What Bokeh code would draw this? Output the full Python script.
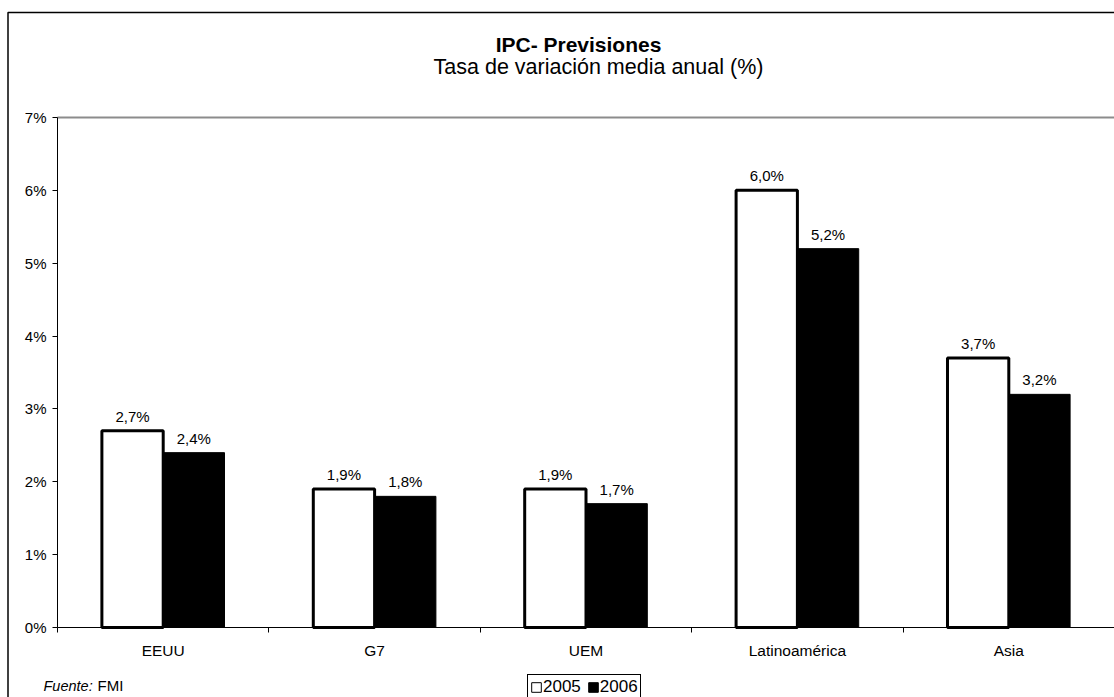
from bokeh.plotting import figure
from bokeh.models import (ColumnDataSource, Range1d, FixedTicker, Label, Legend, LegendItem,
                          BoxAnnotation)
from bokeh.transform import dodge
from bokeh.core.properties import value
from bokeh.embed import file_html
from bokeh.resources import INLINE

# ---- data ----
categories = ["EEUU", "G7", "UEM", "Latinoamérica", "Asia"]
series_names = ["2005", "2006"]
values_2005 = [2.7, 1.9, 1.9, 6.0, 3.7]
values_2006 = [2.4, 1.8, 1.7, 5.2, 3.2]
y_ticks = [0, 1, 2, 3, 4, 5, 6, 7]
y_tick_labels = ["0%", "1%", "2%", "3%", "4%", "5%", "6%", "7%"]
title_text = "IPC- Previsiones"
subtitle_text = "Tasa de variación media anual (%)"
source_prefix = "Fuente:"
source_text = "FMI"

FONT = "Liberation Sans"
W, H = 1114, 697
# plot-area placement inside the canvas (pixels)
AX_LEFT, AX_TOP, AX_BOTTOM = 57, 117, 627


def fmt(v):
    return f"{v:.1f}%".replace(".", ",")


n = len(categories)
ymax = y_ticks[-1]
px_x = (W - AX_LEFT) / n
px_y = (AX_BOTTOM - AX_TOP) / ymax
x_start = -AX_LEFT / px_x
y_start = -(H - AX_BOTTOM) / px_y
y_end = ymax + AX_TOP / px_y

centers = [i + 0.5 for i in range(n)]
boundaries = list(range(n + 1))

src = ColumnDataSource(dict(
    xc=centers,
    v2005=values_2005,
    v2006=values_2006,
    l2005=[fmt(v) for v in values_2005],
    l2006=[fmt(v) for v in values_2006],
))

p = figure(width=W, height=H, output_backend="svg", toolbar_location=None,
           x_range=Range1d(x_start, n), y_range=Range1d(y_start, y_end),
           min_border=0, min_border_left=0, min_border_right=0, min_border_top=0,
           min_border_bottom=0, background_fill_color="white", border_fill_color="white")
p.outline_line_color = None
p.xgrid.visible = False
p.ygrid.visible = False

# top plot-area border (gray)
p.segment(x0=[0], y0=[ymax], x1=[n + 0.2], y1=[ymax], line_color="#8c8c8c", line_width=2)

bw = 0.29
off = 0.145
p.vbar(x=dodge("xc", -off, range=p.x_range), top="v2005", width=bw, bottom=0,
       source=src, fill_color="white", line_color="black", line_width=3)
p.vbar(x=dodge("xc", off, range=p.x_range), top="v2006", width=bw, bottom=0,
       source=src, fill_color="black", line_color="black", line_width=1)

p.text(x=dodge("xc", -off, range=p.x_range), y="v2005", text="l2005", source=src,
       text_align="center", text_baseline="bottom", y_offset=-6,
       text_font=value(FONT), text_font_size="15px", text_color="black")
p.text(x=dodge("xc", off, range=p.x_range), y="v2006", text="l2006", source=src,
       text_align="center", text_baseline="bottom", y_offset=-6,
       text_font=value(FONT), text_font_size="15px", text_color="black")

# axes, fixed at the data origin
xa = p.xaxis[0]
xa.fixed_location = 0
xa.bounds = (0, n)
xa.ticker = FixedTicker(ticks=centers, minor_ticks=boundaries)
xa.major_label_overrides = {c: name for c, name in zip(centers, categories)}
xa.major_tick_line_color = None
xa.major_tick_out = 0
xa.major_tick_in = 0
xa.minor_tick_line_color = "black"
xa.minor_tick_out = 5
xa.minor_tick_in = 0
xa.axis_line_color = "black"
xa.major_label_standoff = 9
xa.major_label_text_font = FONT
xa.major_label_text_font_size = "15.5px"
xa.major_label_text_color = "black"

ya = p.yaxis[0]
ya.fixed_location = 0
ya.bounds = (0, ymax)
ya.ticker = FixedTicker(ticks=y_ticks, minor_ticks=[])
ya.major_label_overrides = {t: s for t, s in zip(y_ticks, y_tick_labels)}
ya.major_tick_out = 5
ya.major_tick_in = 0
ya.major_tick_line_color = "black"
ya.minor_tick_line_color = None
ya.axis_line_color = "black"
ya.major_label_standoff = 6
ya.major_label_text_font = FONT
ya.major_label_text_font_size = "15px"
ya.major_label_text_color = "black"

# titles (screen units: from canvas bottom-left)
p.add_layout(Label(x=578, y=H - 44, x_units="screen", y_units="screen", text=title_text,
                   text_align="center", text_baseline="alphabetic", text_font=FONT,
                   text_font_size="21px", text_font_style="bold", text_color="black"))
p.add_layout(Label(x=598, y=H - 66, x_units="screen", y_units="screen", text=subtitle_text,
                   text_align="center", text_baseline="alphabetic", text_font=FONT,
                   text_font_size="21.5px", text_color="black"))

# source note
p.add_layout(Label(x=43, y=H - 685, x_units="screen", y_units="screen", text=source_prefix,
                   text_align="left", text_baseline="alphabetic", text_font=FONT,
                   text_font_size="14.5px", text_font_style="italic", text_color="black"))
p.add_layout(Label(x=97, y=H - 685, x_units="screen", y_units="screen", text=source_text,
                   text_align="left", text_baseline="alphabetic", text_font=FONT,
                   text_font_size="15px", text_color="black"))

# legend (hidden proxy renderers with thin outlines)
e05 = p.vbar(x="xc", top="v2005", width=bw, source=src, fill_color="white",
             line_color="black", line_width=1, visible=False)
e06 = p.vbar(x="xc", top="v2006", width=bw, source=src, fill_color="black",
             line_color="black", line_width=1, visible=False)
legend = Legend(items=[LegendItem(label=series_names[0], renderers=[e05]),
                       LegendItem(label=series_names[1], renderers=[e06])],
                orientation="horizontal", location=(527, -3),
                glyph_width=12, glyph_height=12, label_standoff=1, spacing=6,
                padding=2, margin=0, border_line_color="black", border_line_width=1,
                border_line_alpha=1,
                background_fill_color="white", background_fill_alpha=1,
                inactive_fill_alpha=0,
                label_text_font=FONT, label_text_font_size="17px", label_text_color="black",
                label_height=18)
p.add_layout(legend, "center")

# outer chart border
p.add_layout(BoxAnnotation(left=7.5, right=W + 50, top=H - 12, bottom=-50,
                           left_units="screen", right_units="screen",
                           top_units="screen", bottom_units="screen",
                           fill_alpha=0, line_color="black", line_alpha=1, line_width=1.5))

open("out.html", "w").write(file_html(p, INLINE))
